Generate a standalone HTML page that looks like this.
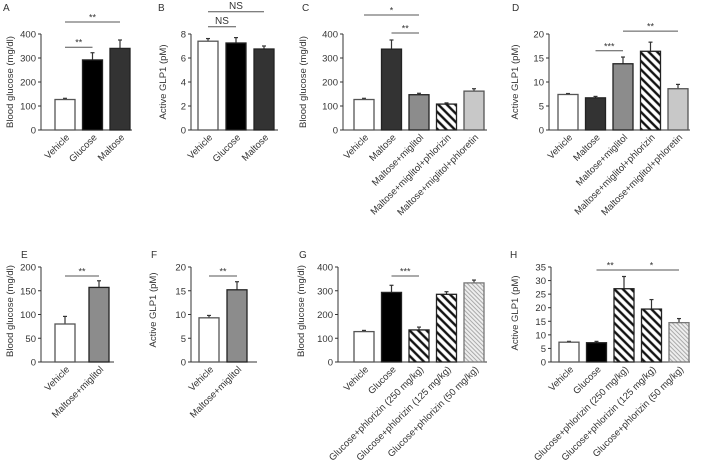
<!DOCTYPE html>
<html><head><meta charset="utf-8"><style>
html,body{margin:0;padding:0;background:#fff}
svg{display:block;font-family:"Liberation Sans",Arial,sans-serif}
</style></head><body>
<svg id="fig" width="704" height="476" viewBox="0 0 704 476" xmlns="http://www.w3.org/2000/svg">
<defs>
<pattern id="hatch" patternUnits="userSpaceOnUse" width="6" height="6" patternTransform="rotate(-45)"><rect width="6" height="6" fill="#fff"/><line x1="2" y1="0" x2="2" y2="6" stroke="#111" stroke-width="2.4"/></pattern>
<pattern id="hatchlight" patternUnits="userSpaceOnUse" width="3" height="3" patternTransform="rotate(-45)"><rect width="3" height="3" fill="#eee"/><line x1="1" y1="0" x2="1" y2="3" stroke="#aaa" stroke-width="1"/></pattern>
</defs>
</svg>
<script>
// ---- data ----
const aCategories=["Vehicle","Glucose","Maltose"];
const aValues=[127,292,340];
const aErrors=[5,30,35];
const aTicks=[0,100,200,300,400];
const aSig=[[0,1,"**",345],[0,2,"**",450]];

const bCategories=["Vehicle","Glucose","Maltose"];
const bValues=[7.4,7.25,6.75];
const bErrors=[0.22,0.45,0.25];
const bTicks=[0,2,4,6,8];
const bSig=[[0,1,"NS",8.6],[0,2,"NS",9.85]];

const cCategories=["Vehicle","Maltose","Maltose+miglitol","Maltose+miglitol+phlorizin","Maltose+miglitol+phloretin"];
const cValues=[127,337,147,108,162];
const cErrors=[5,38,6,5,10];
const cTicks=[0,100,200,300,400];
const cSig=[[0,2,"*",479],[1,2,"**",404]];

const dCategories=["Vehicle","Maltose","Maltose+miglitol","Maltose+miglitol+phlorizin","Maltose+miglitol+phloretin"];
const dValues=[7.4,6.7,13.8,16.4,8.6];
const dErrors=[0.2,0.3,1.4,1.9,0.9];
const dTicks=[0,5,10,15,20];
const dSig=[[1,2,"***",16.5],[2,4,"**",20.6]];

const eCategories=["Vehicle","Maltose+miglitol"];
const eValues=[80,157];
const eErrors=[16,14];
const eTicks=[0,50,100,150,200];
const eSig=[[0,1,"**",181]];

const fCategories=["Vehicle","Maltose+miglitol"];
const fValues=[9.3,15.2];
const fErrors=[0.5,1.7];
const fTicks=[0,5,10,15,20];
const fSig=[[0,1,"**",18.1]];

const gCategories=["Vehicle","Glucose","Glucose+phlorizin (250 mg/kg)","Glucose+phlorizin (125 mg/kg)","Glucose+phlorizin (50 mg/kg)"];
const gValues=[128,293,135,285,333];
const gErrors=[5,30,12,11,12];
const gTicks=[0,100,200,300,400];
const gSig=[[1,2,"***",362]];

const hCategories=["Vehicle","Glucose","Glucose+phlorizin (250 mg/kg)","Glucose+phlorizin (125 mg/kg)","Glucose+phlorizin (50 mg/kg)"];
const hValues=[7.3,7.1,27,19.5,14.5];
const hErrors=[0.3,0.5,4.5,3.5,1.5];
const hTicks=[0,5,10,15,20,25,30,35];
const hSig=[[1,2,"**",33.9],[2,4,"*",33.9]];

// ---- styles/layout ----
const S={white:["#fff","#555"],black:["#000","#222"],dark:["#333","#222"],mid:["#8c8c8c","#222"],light:["#c8c8c8","#555"],hatch:["url(#hatch)","#222"],hatchl:["url(#hatchlight)","#777"]};
const panels=[
 {id:"a",L:"A",lx:3,ly:11,cats:aCategories,vals:aValues,errs:aErrors,ticks:aTicks,sig:aSig,ax:41,top:34,bot:130,x0:55,pitch:27.5,end:132,ylx:13,yly:82,yl:"Blood glucose (mg/dl)",st:["white","black","dark"]},
 {id:"b",L:"B",lx:158,ly:11,cats:bCategories,vals:bValues,errs:bErrors,ticks:bTicks,sig:bSig,ax:191,top:34,bot:130,x0:198,pitch:28,end:278,ylx:166,yly:82,yl:"Active GLP1 (pM)",st:["white","black","dark"]},
 {id:"c",L:"C",lx:302,ly:11,cats:cCategories,vals:cValues,errs:cErrors,ticks:cTicks,sig:cSig,ax:343,top:34,bot:130,x0:354,pitch:27.5,end:487,ylx:306,yly:82,yl:"Blood glucose (mg/dl)",st:["white","dark","mid","hatch","light"]},
 {id:"d",L:"D",lx:512,ly:11,cats:dCategories,vals:dValues,errs:dErrors,ticks:dTicks,sig:dSig,ax:549,top:34,bot:130,x0:558,pitch:27.5,end:690,ylx:518,yly:82,yl:"Active GLP1 (pM)",st:["white","dark","mid","hatch","light"]},
 {id:"e",L:"E",lx:21,ly:258,cats:eCategories,vals:eValues,errs:eErrors,ticks:eTicks,sig:eSig,ax:41,top:267,bot:362,x0:55,pitch:34,end:114,ylx:13,yly:311,yl:"Blood glucose (mg/dl)",st:["white","mid"]},
 {id:"f",L:"F",lx:151,ly:258,cats:fCategories,vals:fValues,errs:fErrors,ticks:fTicks,sig:fSig,ax:191,top:267,bot:362,x0:199,pitch:28,end:257,ylx:156,yly:310,yl:"Active GLP1 (pM)",st:["white","mid"]},
 {id:"g",L:"G",lx:299,ly:258,cats:gCategories,vals:gValues,errs:gErrors,ticks:gTicks,sig:gSig,ax:338,top:267,bot:362,x0:354,pitch:27.5,end:487,ylx:304,yly:311,yl:"Blood glucose (mg/dl)",st:["white","black","hatch","hatch","hatchl"]},
 {id:"h",L:"H",lx:510,ly:258,cats:hCategories,vals:hValues,errs:hErrors,ticks:hTicks,sig:hSig,ax:551,top:267,bot:362,x0:559,pitch:27.5,end:690,ylx:518,yly:313,yl:"Active GLP1 (pM)",st:["white","black","hatch","hatch","hatchl"]}
];
const NS="http://www.w3.org/2000/svg";
const svg=document.getElementById("fig");
function mk(t,a,p){const e=document.createElementNS(NS,t);for(const k in a)e.setAttribute(k,a[k]);(p||svg).appendChild(e);return e;}
const BW=20;
panels.forEach(p=>{
 const g=mk("g",{});
 
 
 const max=p.ticks[p.ticks.length-1];
 const y=v=>p.bot-(v/max)*(p.bot-p.top);
 const cx=i=>p.x0+i*p.pitch+BW/2;
 const lt=mk("text",{x:p.lx,y:p.ly,"font-size":10,fill:"#333"},g);lt.textContent=p.L;
 
 
 const yl=mk("text",{x:p.ylx,y:p.yly,"font-size":9.5,fill:"#333","text-anchor":"middle",transform:`rotate(-90 ${p.ylx} ${p.yly})`},g);yl.textContent=p.yl;
 
 
 const axl=mk("line",{x1:p.ax,y1:p.top,x2:p.ax,y2:p.bot,stroke:"#333","stroke-width":1},g);
 
 
 const bl=mk("line",{x1:p.ax,y1:p.bot,x2:p.end,y2:p.bot,stroke:"#333","stroke-width":1},g);
 
 
 p.ticks.forEach(t=>{
  const tk=mk("line",{x1:p.ax-3,y1:y(t),x2:p.ax,y2:y(t),stroke:"#333"},g);
  
  
  const tl=mk("text",{x:p.ax-5,y:y(t)+3.5,"font-size":9.5,fill:"#333","text-anchor":"end"},g);tl.textContent=t;
  
  
 });
 p.vals.forEach((v,i)=>{
  const x=p.x0+i*p.pitch;
  const ey=y(v+p.errs[i]);
  const el=mk("line",{x1:cx(i),y1:y(v),x2:cx(i),y2:ey,stroke:"#333","stroke-width":1.2},g);
  
  
  const ec=mk("line",{x1:cx(i)-2,y1:ey,x2:cx(i)+2,y2:ey,stroke:"#333","stroke-width":1.2},g);
  
  
  const s=S[p.st[i]];
  const r=mk("rect",{x:x,y:y(v),width:BW,height:p.bot-y(v),fill:s[0],stroke:s[1],"stroke-width":1.3},g);
  
  
  const tx=cx(i)+5,ty=p.bot+8;
  const lb=mk("text",{x:tx,y:ty,"font-size":9.5,fill:"#333","text-anchor":"end",transform:`rotate(-45 ${tx} ${ty})`},g);lb.textContent=p.cats[i];
  
  
 });
 p.sig.forEach(s=>{
  const yy=y(s[3]);
  const sl=mk("line",{x1:cx(s[0]),y1:yy,x2:cx(s[1]),y2:yy,stroke:"#555","stroke-width":1},g);
  
  
  const st=mk("text",{x:(cx(s[0])+cx(s[1]))/2,y:yy-(s[2]==="NS"?3:1.5),"font-size":s[2]==="NS"?10:9,fill:"#333","text-anchor":"middle"},g);st.textContent=s[2];
  
  
 });
});
</script>
</body></html>
